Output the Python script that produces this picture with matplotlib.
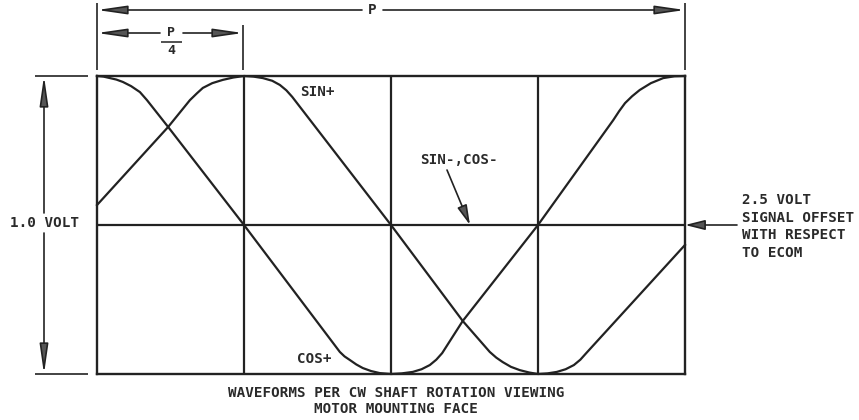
import matplotlib
matplotlib.use("Agg")
import matplotlib.pyplot as plt

# ---- data (x as fraction of period P, y in volts about the 2.5 V offset) ----
quarter_ticks = [0.25, 0.5, 0.75]

sin_x = [0.000, 0.121, 0.158, 0.170, 0.180, 0.196, 0.214, 0.232, 0.250, 0.266,
         0.282, 0.298, 0.311, 0.322, 0.332, 0.500, 0.622, 0.668, 0.679, 0.690,
         0.704, 0.719, 0.735, 0.750, 0.766, 0.782, 0.797, 0.811, 0.822, 0.832, 1.000]
sin_v = [0.067, 0.329, 0.419, 0.442, 0.460, 0.476, 0.487, 0.495, 0.500, 0.498,
         0.493, 0.484, 0.470, 0.452, 0.430, 0.000, -0.322, -0.426, -0.445, -0.460,
         -0.476, -0.487, -0.495, -0.500, -0.498, -0.493, -0.484, -0.470, -0.452, -0.430, -0.067]

cos_x = [0.000, 0.011, 0.022, 0.033, 0.044, 0.058, 0.073, 0.085, 0.121, 0.250,
         0.413, 0.421, 0.430, 0.441, 0.452, 0.466, 0.481, 0.500, 0.518, 0.537,
         0.552, 0.566, 0.577, 0.587, 0.622, 0.750, 0.878, 0.888, 0.898, 0.910,
         0.923, 0.942, 0.963, 0.982, 1.000]
cos_v = [0.500, 0.498, 0.493, 0.488, 0.480, 0.466, 0.446, 0.419, 0.329, 0.000,
         -0.426, -0.441, -0.453, -0.468, -0.480, -0.490, -0.497, -0.500, -0.498, -0.493,
         -0.484, -0.470, -0.452, -0.430, -0.322, 0.000, 0.352, 0.382, 0.409, 0.432,
         0.453, 0.476, 0.493, 0.499, 0.500]

offset_lines = ["2.5 VOLT", "SIGNAL OFFSET", "WITH RESPECT", "TO ECOM"]
caption_lines = ["WAVEFORMS PER CW SHAFT ROTATION VIEWING", "MOTOR MOUNTING FACE"]

# ---- figure ----
W, H = 859, 420
INK = "#222222"
FONT = "DejaVu Sans Mono"
FS = 10.3

fig = plt.figure(figsize=(W / 100, H / 100), dpi=100)
fig.patch.set_facecolor("white")

L, R, T, B = 97, 685, 76, 374
ax = fig.add_axes([L / W, 1 - B / H, (R - L) / W, (B - T) / H])
ax.set_xlim(0, 1)
ax.set_ylim(-0.5, 0.5)
ax.set_xticks([])
ax.set_yticks([])
for s in ax.spines.values():
    s.set_linewidth(1.7)
    s.set_color(INK)

for q in quarter_ticks:
    ax.axvline(q, color=INK, lw=1.6)
ax.axhline(0, color=INK, lw=1.6)

ax.plot(sin_x, sin_v, color=INK, lw=1.6, solid_joinstyle="round", clip_on=False)
ax.plot(cos_x, cos_v, color=INK, lw=1.6, solid_joinstyle="round", clip_on=False)

# ---- overlay in pixel coordinates for drawing annotations ----
ov = fig.add_axes([0, 0, 1, 1])
ov.set_xlim(0, W)
ov.set_ylim(H, 0)
ov.axis("off")
ov.patch.set_alpha(0)

def seg(x0, y0, x1, y1, lw=1.2):
    ov.plot([x0, x1], [y0, y1], color=INK, lw=lw, solid_capstyle="butt")

def arrow(tip, tail, hl=18, hw=2.6, lw=1.2):
    ov.annotate("", xy=tip, xytext=tail,
                arrowprops=dict(arrowstyle=f"-|>,head_length={hl},head_width={hw}",
                                mutation_scale=1, lw=lw, color=INK, fc="#555555",
                                ec=INK, shrinkA=0, shrinkB=0))

def txt(x, y, s, ha="center", size=FS):
    ov.text(x, y, s, ha=ha, va="center", fontsize=size, family=FONT,
            weight="bold", color="#2a2a2a")

# P dimension
seg(L, 3, L, 70)
seg(R, 3, R, 70)
arrow((L, 10), (362, 10))
arrow((R, 10), (383, 10))
txt(372, 10, "P")

# P/4 dimension
seg(243, 25, 243, 70)
arrow((L, 33), (160, 33))
arrow((243, 33), (183, 33))
txt(171, 33, "P", size=9.5)
seg(161, 41.5, 182, 41.5, lw=1.1)
txt(171, 51, "4", size=9.5)

# 1.0 VOLT dimension
seg(35, T, 88, T)
seg(35, B, 88, B)
arrow((44, T), (44, 213))
arrow((44, B), (44, 233))
txt(45, 223, "1.0 VOLT")

# offset arrow and text
arrow((R, 225), (737, 225), hl=12, hw=3)
for i, line in enumerate(offset_lines):
    txt(742, 200 + i * 17.7, line, ha="left")

# curve labels
txt(300, 92, "SIN+", ha="left")
txt(297, 359, "COS+", ha="left")
txt(420, 160, "SIN-,COS-", ha="left")
arrow((470, 225), (447, 170), hl=12, hw=3)

# caption
txt(396, 393, caption_lines[0])
txt(396, 409, caption_lines[1])

fig.savefig("out.png", dpi=100, facecolor="white")
